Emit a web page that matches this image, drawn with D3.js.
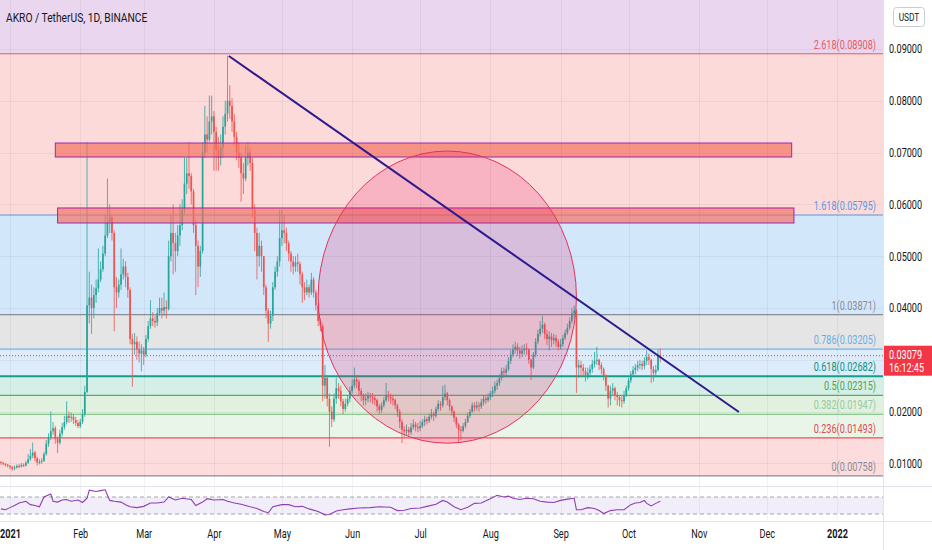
<!DOCTYPE html>
<html>
<head>
<meta charset="utf-8">
<script src="https://cdn.jsdelivr.net/npm/d3@7"></script>
<style>
  body { margin: 0; background: #fff; }
  svg text { font-family: Roboto, "Noto Sans", sans-serif; fill: #131722; }
</style>
</head>
<body>
<svg id="chart" width="932" height="550"></svg>
<script>
// ---- data ----
const startDate = Date.UTC(2020, 11, 28);
const firstOpen = 0.0103;

const closes = [
  .0101,.0099,.0097,.0095,.0093,.0090,.0092,.0095,.0094,.0097,.0096,.0101,.0108,.0115,.0121,.0110,.0102,.0103,.0105,.0118,
  .0138,.0150,.0162,.0168,.0148,.0140,.0158,.0170,.0180,.0192,.0188,.0190,.0184,.0178,.0172,.0180,.0195,.0238,.0405,.0420,
  .0400,.0425,.0438,.0455,.0475,.0505,.0540,.0565,.0575,.0545,.0440,.0430,.0445,.0465,.0480,.0460,.0435,.0340,.0330,.0335,
  .0320,.0312,.0318,.0310,.0340,.0365,.0380,.0375,.0372,.0390,.0400,.0395,.0402,.0398,.0500,.0545,.0525,.0510,.0540,.0560,
  .0590,.0640,.0660,.0655,.0625,.0560,.0520,.0480,.0510,.0700,.0735,.0725,.0760,.0770,.0740,.0705,.0690,.0710,.0750,.0775,
  .0800,.0790,.0760,.0730,.0700,.0690,.0660,.0650,.0690,.0700,.0680,.0590,.0545,.0500,.0520,.0500,.0440,.0395,.0370,.0385,
  .0440,.0470,.0490,.0535,.0550,.0545,.0525,.0505,.0490,.0480,.0488,.0485,.0465,.0440,.0430,.0440,.0430,.0455,.0430,.0405,
  .0375,.0365,.0250,.0265,.0225,.0200,.0185,.0225,.0245,.0240,.0220,.0205,.0215,.0225,.0240,.0250,.0262,.0258,.0240,.0232,
  .0222,.0225,.0230,.0228,.0226,.0222,.0210,.0203,.0212,.0222,.0230,.0228,.0225,.0222,.0212,.0200,.0180,.0165,.0162,.0165,
  .0160,.0170,.0175,.0170,.0168,.0172,.0180,.0185,.0182,.0190,.0196,.0192,.0205,.0215,.0212,.0228,.0235,.0222,.0210,.0200,
  .0188,.0175,.0165,.0163,.0172,.0180,.0192,.0200,.0212,.0208,.0212,.0210,.0218,.0225,.0222,
  .0228,.0235,.0240,.0250,.0255,.0265,.0278,.0275,.0282,.0298,
  .0310,.0320,.0325,.0318,.0312,.0318,.0322,.0320,.0300,.0285,
  .0310,.0335,.0350,.0360,.0368,.0350,.0340,.0345,.0338,.0342,
  .0335,.0325,.0330,.0342,.0352,.0362,.0375,.0390,.0395,.0285,
  .0290,.0285,.0278,.0270,.0275,.0282,.0292,.0298,.0300,.0290,
  .0282,.0270,.0250,.0225,.0240,.0245,.0232,.0228,.0222,.0220,
  .0232,.0245,.0260,.0272,.0280,.0285,.0290,.0292,.0288,.0298,
  .0305,.0300,.0282,.0275,.0280,.0308,.03079
];

const highs = [
  .0104,.0103,.0101,.0099,.0097,.0095,.0096,.0098,.0099,.0101,.0100,.0105,.0118,.0128,.0140,.0124,.0113,.0108,.0110,.0122,
  .0145,.0158,.0200,.0180,.0172,.0152,.0165,.0178,.0192,.0220,.0200,.0198,.0195,.0190,.0184,.0186,.0205,.0250,.0720,.0470,
  .0445,.0440,.0455,.0515,.0490,.0520,.0580,.0650,.0600,.0580,.0550,.0460,.0455,.0515,.0495,.0490,.0468,.0440,.0350,.0352,
  .0345,.0335,.0330,.0325,.0348,.0375,.0415,.0392,.0385,.0400,.0420,.0420,.0430,.0415,.0530,.0580,.0600,.0545,.0560,.0600,
  .0610,.0690,.0690,.0720,.0660,.0630,.0570,.0530,.0520,.0720,.0790,.0770,.0810,.0810,.0780,.0750,.0730,.0735,.0770,.0800,
  .0887,.0830,.0805,.0775,.0740,.0720,.0700,.0680,.0715,.0720,.0710,.0690,.0600,.0555,.0545,.0530,.0500,.0445,.0400,.0395,
  .0450,.0480,.0500,.0590,.0590,.0580,.0555,.0530,.0510,.0500,.0500,.0505,.0490,.0470,.0450,.0455,.0445,.0468,.0460,.0435,
  .0410,.0380,.0370,.0290,.0270,.0235,.0210,.0235,.0265,.0255,.0250,.0225,.0225,.0232,.0248,.0262,.0285,.0270,.0262,.0245,
  .0235,.0235,.0238,.0236,.0236,.0232,.0225,.0215,.0218,.0228,.0255,.0240,.0235,.0232,.0225,.0215,.0205,.0185,.0172,.0175,
  .0170,.0178,.0185,.0180,.0178,.0182,.0185,.0192,.0190,.0196,.0205,.0200,.0210,.0222,.0220,.0250,.0252,.0238,.0225,.0212,
  .0202,.0190,.0178,.0172,.0178,.0186,.0198,.0205,.0218,.0218,.0220,.0218,.0225,.0232,.0230,
  .0235,.0240,.0248,.0258,.0262,.0272,.0285,.0285,.0290,.0305,
  .0318,.0330,.0335,.0332,.0325,.0328,.0330,.0332,.0322,.0302,
  .0315,.0342,.0358,.0375,.0385,.0372,.0358,.0355,.0352,.0350,
  .0348,.0340,.0340,.0348,.0358,.0370,.0382,.0400,.0405,.0398,
  .0300,.0298,.0292,.0285,.0285,.0290,.0300,.0315,.0325,.0302,
  .0295,.0285,.0272,.0252,.0250,.0255,.0248,.0238,.0232,.0230,
  .0240,.0250,.0265,.0278,.0288,.0292,.0298,.0300,.0298,.0305,
  .0318,.0312,.0302,.0288,.0290,.0320,.0322
];

const lows = [
  .0097,.0096,.0094,.0092,.0089,.0086,.0087,.0090,.0091,.0092,.0093,.0094,.0099,.0105,.0110,.0104,.0096,.0098,.0099,.0103,
  .0115,.0132,.0145,.0155,.0138,.0120,.0136,.0152,.0165,.0175,.0178,.0180,.0176,.0172,.0168,.0168,.0176,.0190,.0235,.0370,
  .0350,.0380,.0410,.0430,.0450,.0470,.0500,.0535,.0545,.0530,.0355,.0400,.0420,.0435,.0455,.0440,.0420,.0330,.0248,.0310,
  .0300,.0295,.0278,.0290,.0305,.0335,.0360,.0365,.0362,.0365,.0385,.0380,.0385,.0380,.0395,.0490,.0465,.0470,.0500,.0520,
  .0550,.0580,.0620,.0630,.0600,.0545,.0425,.0440,.0460,.0505,.0690,.0700,.0720,.0735,.0665,.0665,.0665,.0675,.0690,.0735,
  .0760,.0765,.0740,.0715,.0685,.0670,.0605,.0620,.0645,.0675,.0665,.0575,.0510,.0455,.0480,.0470,.0425,.0380,.0335,.0360,
  .0375,.0435,.0460,.0480,.0520,.0525,.0510,.0490,.0470,.0465,.0470,.0470,.0445,.0410,.0415,.0425,.0420,.0425,.0420,.0395,
  .0365,.0355,.0220,.0225,.0210,.0132,.0170,.0180,.0215,.0225,.0210,.0195,.0200,.0210,.0218,.0235,.0245,.0245,.0230,.0220,
  .0212,.0212,.0218,.0218,.0215,.0212,.0200,.0195,.0198,.0208,.0218,.0220,.0215,.0212,.0205,.0190,.0168,.0139,.0150,.0155,
  .0152,.0155,.0165,.0162,.0160,.0162,.0168,.0172,.0175,.0178,.0185,.0182,.0188,.0200,.0202,.0208,.0222,.0212,.0202,.0192,
  .0180,.0168,.0141,.0145,.0160,.0168,.0178,.0188,.0198,.0200,.0202,.0200,.0205,.0212,.0215,
  .0218,.0222,.0228,.0235,.0242,.0250,.0260,.0265,.0268,.0278,
  .0292,.0305,.0312,.0308,.0302,.0305,.0310,.0310,.0292,.0261,
  .0282,.0305,.0330,.0345,.0352,.0340,.0328,.0318,.0325,.0330,
  .0325,.0318,.0320,.0325,.0338,.0348,.0358,.0370,.0380,.0236,
  .0265,.0268,.0268,.0258,.0262,.0268,.0275,.0285,.0290,.0280,
  .0272,.0260,.0240,.0208,.0212,.0230,.0222,.0212,.0210,.0208,
  .0215,.0228,.0240,.0255,.0268,.0272,.0278,.0282,.0280,.0282,
  .0290,.0290,.0255,.0258,.0268,.0278,.0295
];

// RSI readings: candle index -> value
const rsiIdx = [0,2,4,6,8,11,13,15,17,19,22,23,25,27,29,31,34,36,38,39,42,44,46,48,50,53,55,57,60,63,
  66,69,72,74,77,80,84,86,89,91,94,98,100,103,106,110,113,116,118,120,124,127,130,133,136,140,143,145,148,151,
  154,158,163,167,172,175,178,181,185,188,192,195,197,200,203,206,209,212,216,219,222,224,226,229,232,235,238,241,244,247,
  250,253,254,256,259,262,264,266,269,272,275,278,280,282,284,285,287,289,291];
const rsiVal = [42,40,45,50,56,60,52,50,47,70,77,60,58,63,64,60,63,57,67,86,83,85,87,62,60,58,52,47,45,48,
  56,56,58,70,63,67,64,50,58,66,63,64,60,56,53,47,43,36,33,47,52,52,47,48,42,36,28,29,37,40,
  42,44,45,47,46,38,39,43,44,48,53,62,58,47,40,46,55,56,66,74,70,72,67,64,67,66,60,58,57,62,
  65,67,40,40,45,43,38,31,38,40,40,52,56,57,62,55,49,55,60];

// Fibonacci retracement
const fibLevels = ["0", "0.236", "0.382", "0.5", "0.618", "0.786", "1", "1.618", "2.618", "3.618"];
const fibPrices = [0.00758, 0.01493, 0.01947, 0.02315, 0.02682, 0.03205, 0.03871, 0.05795, 0.08908, 0.12021];
const fibLineColors = ["#8a8d96", "#ef4f55", "#8bc98e", "#55b259", "#139f88", "#6cb6f2", "#8a8d96", "#5595e0", "#e35d62", "#a45bb8"];
const fibTextColors = ["#8a8d96", "#e04a4f", "#9bc89d", "#4ea452", "#10907b", "#6aaeea", "#8a8d96", "#5a9ae2", "#e35d62", "#a45bb8"];
const fibZoneColors = ["#fcdcdc", "#eaf5e9", "#e1f1df", "#d6eee8", "#dcecfb", "#e5e5e6", "#d3e7fb", "#fcdada", "#ead6ee"];

// drawings
const rectStart = ["2021-01-21", "2021-01-22"];
const rectEnd = ["2021-12-12", "2021-12-13"];
const rectTop = [0.07185, 0.05931];
const rectBottom = [0.06915, 0.05641];
const ellipseDates = ["2021-05-17", "2021-09-08"];
const ellipsePrices = [0.0703, 0.0139];
const trendDates = ["2021-04-07T14:00Z", "2021-11-18T17:00Z"];
const trendPrices = [0.08865, 0.01992];
const lastPrice = 0.03079;
const countdown = "16:12:45";
const priceTicks = [0.01, 0.02, 0.03, 0.04, 0.05, 0.06, 0.07, 0.08, 0.09];
const title = "AKRO / TetherUS, 1D, BINANCE";

// ---- layout ----
const W = 932, H = 550, plotR = 883, mainB = 486, rsiT = 487, rsiB = 521;
const DAY = 86400000;

const svg = d3.select("#chart");
const x = d3.scaleUtc().domain([Date.UTC(2021, 0, 1), Date.UTC(2022, 0, 1)]).range([10, 837]);
const y = d3.scaleLinear().domain([0.01, 0.09]).range([463.4, 49]);
const yr = d3.scaleLinear().domain([30, 70]).range([514, 497]);

const candles = closes.map((c, i) => {
  const o = i === 0 ? firstOpen : closes[i - 1];
  return {
    date: new Date(startDate + i * DAY),
    o: o, c: c,
    h: Math.max(highs[i], o, c),
    l: Math.min(lows[i], o, c)
  };
});

const defs = svg.append("defs");
defs.append("clipPath").attr("id", "mainClip")
  .append("rect").attr("x", 0).attr("y", 0).attr("width", plotR).attr("height", mainB);
defs.append("clipPath").attr("id", "rsiClip")
  .append("rect").attr("x", 0).attr("y", rsiT).attr("width", plotR).attr("height", rsiB - rsiT);

const main = svg.append("g").attr("clip-path", "url(#mainClip)");

// fib zones
main.append("g").selectAll("rect")
  .data(fibZoneColors)
  .join("rect")
  .attr("x", 0).attr("width", plotR)
  .attr("y", (d, i) => y(fibPrices[i + 1]))
  .attr("height", (d, i) => y(fibPrices[i]) - y(fibPrices[i + 1]))
  .attr("fill", d => d);

// grid
const months = d3.utcMonths(Date.UTC(2021, 0, 1), Date.UTC(2022, 0, 2));
main.append("g").selectAll("line")
  .data(priceTicks)
  .join("line")
  .attr("x1", 0).attr("x2", plotR)
  .attr("y1", d => Math.round(y(d)) + 0.5).attr("y2", d => Math.round(y(d)) + 0.5)
  .attr("stroke", "rgba(42,46,57,0.06)");
svg.append("g").selectAll("line")
  .data(months)
  .join("line")
  .attr("x1", d => Math.round(x(d)) + 0.5).attr("x2", d => Math.round(x(d)) + 0.5)
  .attr("y1", 0).attr("y2", rsiB)
  .attr("stroke", "rgba(42,46,57,0.06)");

// fib lines + labels (skip the 3.618 edge)
const fibIdx = d3.range(fibLevels.length - 1);
main.append("g").selectAll("line")
  .data(fibIdx)
  .join("line")
  .attr("x1", 0).attr("x2", plotR)
  .attr("y1", i => y(fibPrices[i])).attr("y2", i => y(fibPrices[i]))
  .attr("stroke", i => fibLineColors[i])
  .attr("stroke-width", i => fibLevels[i] === "0.618" ? 2 : 1.2);
main.append("g").selectAll("text")
  .data(fibIdx)
  .join("text")
  .attr("x", 876)
  .attr("y", i => y(fibPrices[i]) - 5)
  .attr("text-anchor", "end")
  .style("font-size", "12px")
  .style("fill", i => fibTextColors[i])
  .text(i => `${fibLevels[i]}(${fibPrices[i].toFixed(5)})`);

// current price dotted line
main.append("line")
  .attr("x1", 0).attr("x2", plotR)
  .attr("y1", y(lastPrice)).attr("y2", y(lastPrice))
  .attr("stroke", "#f23645").attr("stroke-dasharray", "1,2").attr("stroke-width", 1);

// candles
const bw = 1.7;
const cg = main.append("g");
cg.selectAll("line")
  .data(candles)
  .join("line")
  .attr("x1", d => x(d.date)).attr("x2", d => x(d.date))
  .attr("y1", d => y(d.h)).attr("y2", d => y(d.l))
  .attr("stroke", d => d.c >= d.o ? "#26a69a" : "#ef5350")
  .attr("stroke-width", 0.8);
cg.selectAll("rect")
  .data(candles)
  .join("rect")
  .attr("x", d => x(d.date) - bw / 2)
  .attr("width", bw)
  .attr("y", d => y(Math.max(d.o, d.c)))
  .attr("height", d => Math.max(1, Math.abs(y(d.o) - y(d.c))))
  .attr("fill", d => d.c >= d.o ? "#26a69a" : "#ef5350");

// rectangles
main.append("g").selectAll("rect")
  .data(rectStart)
  .join("rect")
  .attr("x", (d, i) => x(new Date(d)))
  .attr("width", (d, i) => x(new Date(rectEnd[i])) - x(new Date(d)))
  .attr("y", (d, i) => y(rectTop[i]))
  .attr("height", (d, i) => y(rectBottom[i]) - y(rectTop[i]))
  .attr("fill", "rgba(244,112,96,0.68)")
  .attr("stroke", "#9c27b0").attr("stroke-width", 1);

// ellipse
const ex0 = x(new Date(ellipseDates[0])), ex1 = x(new Date(ellipseDates[1]));
const ey0 = y(ellipsePrices[0]), ey1 = y(ellipsePrices[1]);
main.append("ellipse")
  .attr("cx", (ex0 + ex1) / 2).attr("cy", (ey0 + ey1) / 2)
  .attr("rx", (ex1 - ex0) / 2).attr("ry", (ey1 - ey0) / 2)
  .attr("fill", "rgba(233,30,99,0.2)")
  .attr("stroke", "#e2335f").attr("stroke-width", 1);

// trend line
main.append("line")
  .attr("x1", x(new Date(trendDates[0]))).attr("y1", y(trendPrices[0]))
  .attr("x2", x(new Date(trendDates[1]))).attr("y2", y(trendPrices[1]))
  .attr("stroke", "#2e1a8e").attr("stroke-width", 2);

// RSI pane
const rsi = svg.append("g").attr("clip-path", "url(#rsiClip)");
rsi.append("rect")
  .attr("x", 0).attr("width", plotR)
  .attr("y", yr(70)).attr("height", yr(30) - yr(70))
  .attr("fill", "rgba(126,87,194,0.1)");
rsi.append("g").selectAll("line")
  .data([70, 30])
  .join("line")
  .attr("x1", 0).attr("x2", plotR)
  .attr("y1", d => yr(d)).attr("y2", d => yr(d))
  .attr("stroke", "#a3a6af").attr("stroke-dasharray", "4,3");
rsi.append("path")
  .datum(rsiIdx)
  .attr("fill", "none")
  .attr("stroke", "#8e3fb0")
  .attr("stroke-width", 1.1)
  .attr("d", d3.line()
    .x(i => x(new Date(startDate + i * DAY)))
    .y((i, k) => yr(rsiVal[k])));

// pane borders
svg.append("line").attr("x1", 0).attr("x2", W).attr("y1", mainB + 0.5).attr("y2", mainB + 0.5).attr("stroke", "#e0e3eb");
svg.append("line").attr("x1", 0).attr("x2", W).attr("y1", rsiB + 0.5).attr("y2", rsiB + 0.5).attr("stroke", "#e0e3eb");
svg.append("line").attr("x1", plotR + 0.5).attr("x2", plotR + 0.5).attr("y1", 0).attr("y2", H).attr("stroke", "#e0e3eb");

// price axis (the 0.03 label sits under the last-price badge)
const yAxis = svg.append("g")
  .attr("transform", `translate(${plotR},0)`)
  .call(d3.axisRight(y).tickValues(priceTicks.filter(d => Math.abs(y(d) - y(lastPrice)) > 14))
    .tickFormat(d3.format(".5f")).tickSize(0).tickPadding(6));
yAxis.select(".domain").remove();
yAxis.selectAll("text").style("font-size", "12px").style("fill", "#131722");

// time axis
const xAxis = svg.append("g")
  .attr("transform", `translate(0,${rsiB})`)
  .call(d3.axisBottom(x).tickValues(months)
    .tickFormat(d => d.getUTCMonth() === 0 ? d.getUTCFullYear() : d3.utcFormat("%b")(d))
    .tickSize(0).tickPadding(8));
xAxis.select(".domain").remove();
xAxis.selectAll("text")
  .style("font-size", "12px").style("fill", "#131722")
  .style("font-weight", d => d.getUTCMonth() === 0 ? "bold" : "normal");

// last price label
const lp = y(lastPrice);
svg.append("rect").attr("x", plotR + 1).attr("y", lp - 10).attr("width", W - plotR - 1).attr("height", 30)
  .attr("fill", "#f23645");
svg.append("text").attr("x", 889).attr("y", lp + 3).text(d3.format(".5f")(lastPrice))
  .style("fill", "#fff").style("font-size", "12px");
svg.append("text").attr("x", 889).attr("y", lp + 16).text(countdown)
  .style("fill", "#fff").style("font-size", "12px");

// currency badge
svg.append("rect").attr("x", 893.5).attr("y", 7.5).attr("width", 31).attr("height", 19).attr("rx", 3)
  .attr("fill", "#fff").attr("stroke", "#c9ccd4");
svg.append("text").attr("x", 909).attr("y", 21).attr("text-anchor", "middle").text("USDT")
  .style("font-size", "11px");

// title
svg.append("text").attr("x", 6).attr("y", 22).text(title).style("font-size", "13.5px");

// the screenshot's lettering is narrow: squeeze every label horizontally about its anchor
svg.selectAll("text").each(function () {
  const ax = +this.getAttribute("x") || 0;
  this.setAttribute("transform", `translate(${ax},0) scale(0.76,1) translate(${-ax},0)`);
});
</script>
</body>
</html>
